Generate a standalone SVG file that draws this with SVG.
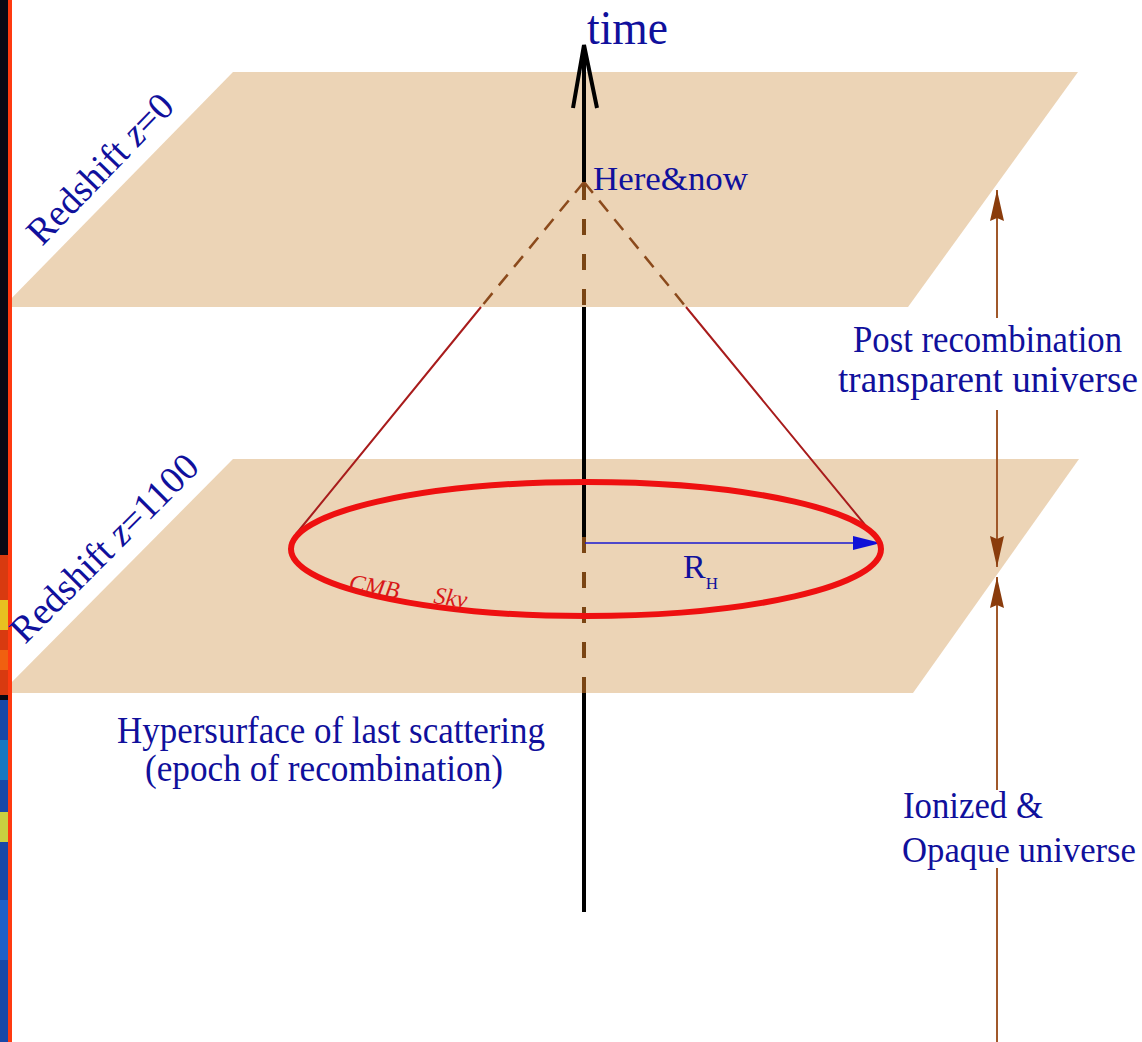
<svg xmlns="http://www.w3.org/2000/svg" width="1142" height="1042" viewBox="0 0 1142 1042">
<style>
.plane{fill:#ecd4b6}
.lbl{font-family:"Liberation Serif","Times New Roman",serif;fill:#10109c}
.axis{stroke:#000;stroke-width:4;fill:none}
.adash{stroke:#7a4514;stroke-width:4;stroke-dasharray:16 19;fill:none}
.cdash{stroke:#8b4a1c;stroke-width:2.5;stroke-dasharray:14 10;fill:none}
.cone{stroke:#a81c1c;stroke-width:2;fill:none}
.brown{stroke:#a0582a;stroke-width:2;fill:none}
.cmb{font-family:"Liberation Serif","Times New Roman",serif;font-style:italic;fill:#d81818;font-size:24px}
</style>
<defs>
<marker id="bh" markerUnits="userSpaceOnUse" viewBox="0 0 31 16" refX="31" refY="8" markerWidth="31" markerHeight="16" orient="auto">
<path d="M0,1 L31,8 L0,15 L3,8 Z" fill="#8a3c0c"/>
</marker>
<marker id="blh" markerUnits="userSpaceOnUse" viewBox="0 0 28 16" refX="27" refY="8" markerWidth="28" markerHeight="16" orient="auto">
<path d="M0,1 L28,8 L0,15 Z" fill="#1010d8"/>
</marker>
</defs>
<rect width="1142" height="1042" fill="#fff"/>
<g id="plane-z0"><polygon class="plane" points="233,72 1078,72 908,307 3,307"/></g>
<g id="plane-z1100"><polygon class="plane" points="233,459 1079,459 913,693 1,693"/></g>
<g id="strip">
<rect x="0" y="0" width="8" height="1042" fill="#080814"/>
<rect x="0" y="555" width="8" height="140" fill="#d83a10"/>
<rect x="0" y="600" width="8" height="30" fill="#e8c020"/>
<rect x="0" y="650" width="8" height="20" fill="#f06010"/>
<rect x="0" y="700" width="8" height="342" fill="#1848a8"/>
<rect x="0" y="740" width="8" height="40" fill="#1878c0"/>
<rect x="0" y="812" width="8" height="30" fill="#c8d040"/>
<rect x="0" y="900" width="8" height="60" fill="#2060c8"/>
<rect x="8" y="0" width="4" height="1042" fill="#ff3a10"/>
</g>
<g id="connectors">
<path class="adash" d="M584,184 V307"/>
<path class="adash" d="M584,537 V693"/>
<path class="cdash" d="M584,182 L481,307 M584,182 L686,307"/>
<path class="cone" d="M481,307 L296,534 M686,307 L880,543"/>
<path class="axis" d="M584,912 V693 M584,537 V307 M584,182 V45"/>
<path class="axis" d="M573,108 L584,45 L597,108"/>
<path class="brown" d="M997,318 V190" marker-end="url(#bh)"/>
<path class="brown" d="M997,410 V567" marker-end="url(#bh)"/>
<path class="brown" d="M997,790 V577" marker-end="url(#bh)"/>
<path class="brown" d="M997,868 V1042"/>
<path d="M585,543 H880" stroke="#1a1ad0" stroke-width="1.6" marker-end="url(#blh)"/>
</g>
<g id="cmb-sky">
<ellipse cx="586" cy="549" rx="295" ry="67" fill="none" stroke="#ee1010" stroke-width="6"/>
<text class="cmb" transform="translate(348,590) rotate(10)">CMB</text>
<text class="cmb" transform="translate(433,603) rotate(8)">Sky</text>
</g>
<g id="labels">
<text class="lbl" x="587" y="44" font-size="48" textLength="81" lengthAdjust="spacingAndGlyphs">time</text>
<text class="lbl" x="593" y="190" font-size="34" textLength="155" lengthAdjust="spacingAndGlyphs">Here&amp;now</text>
<text class="lbl" transform="translate(42,247) rotate(-46)" font-size="38" textLength="193" lengthAdjust="spacingAndGlyphs">Redshift <tspan font-style="italic">z</tspan>=0</text>
<text class="lbl" transform="translate(25,645) rotate(-45)" font-size="38" textLength="249" lengthAdjust="spacingAndGlyphs">Redshift <tspan font-style="italic">z</tspan>=1100</text>
<text class="lbl" x="853" y="352" font-size="37" textLength="269" lengthAdjust="spacingAndGlyphs">Post recombination</text>
<text class="lbl" x="838" y="392" font-size="37" textLength="300" lengthAdjust="spacingAndGlyphs">transparent universe</text>
<text class="lbl" x="117" y="743" font-size="37" textLength="428" lengthAdjust="spacingAndGlyphs">Hypersurface of last scattering</text>
<text class="lbl" x="145" y="781" font-size="37" textLength="358" lengthAdjust="spacingAndGlyphs">(epoch of recombination)</text>
<text class="lbl" x="903" y="818" font-size="37" textLength="140" lengthAdjust="spacingAndGlyphs">Ionized &amp;</text>
<text class="lbl" x="902" y="862" font-size="35" textLength="234" lengthAdjust="spacingAndGlyphs">Opaque universe</text>
<text class="lbl" x="683" y="578" font-size="34">R<tspan font-size="17" dy="11">H</tspan></text>
</g>
</svg>
